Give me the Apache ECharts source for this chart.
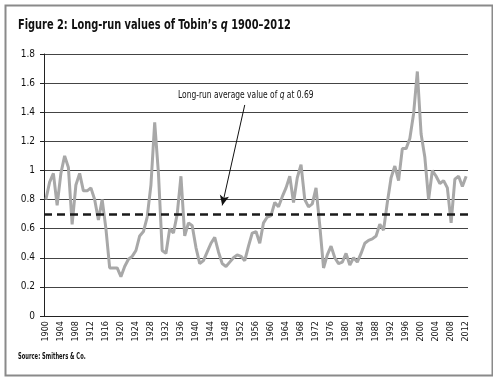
<!DOCTYPE html>
<html>
<head>
<meta charset="utf-8">
<script src="https://cdn.jsdelivr.net/npm/echarts@6/dist/echarts.min.js"></script>
<style>
  html, body { margin: 0; padding: 0; background: #fff; }
  #chart { width: 493px; height: 377px; }
</style>
</head>
<body>
<div id="chart"></div>
<script>
// years 1900..2012
var years = [];
for (var y = 1900; y <= 2012; y++) years.push(String(y));

// Tobin's q
var qValues = [
  0.80, 0.92, 0.98, 0.76, 0.98, 1.10, 1.02, 0.63, 0.90, 0.98,
  0.86, 0.86, 0.88, 0.80, 0.66, 0.80, 0.60, 0.33, 0.33, 0.33,
  0.27, 0.34, 0.39, 0.41, 0.45, 0.55, 0.58, 0.68, 0.90, 1.33,
  0.98, 0.45, 0.43, 0.60, 0.57, 0.70, 0.96, 0.55, 0.64, 0.62,
  0.47, 0.36, 0.38, 0.44, 0.50, 0.54, 0.44, 0.36, 0.34, 0.37,
  0.40, 0.42, 0.41, 0.38, 0.48, 0.57, 0.58, 0.50, 0.64, 0.68,
  0.69, 0.78, 0.75, 0.82, 0.88, 0.96, 0.78, 0.95, 1.04, 0.80,
  0.75, 0.77, 0.88, 0.62, 0.33, 0.42, 0.48, 0.40, 0.36, 0.37,
  0.43, 0.35, 0.40, 0.37, 0.43, 0.50, 0.52, 0.53, 0.55, 0.63,
  0.59, 0.78, 0.95, 1.03, 0.93, 1.15, 1.15, 1.22, 1.39, 1.68,
  1.25, 1.09, 0.80, 1.00, 0.96, 0.91, 0.93, 0.88, 0.64, 0.94,
  0.96, 0.89, 0.96
];

// dashed average line (drawn where the picture has it)
var avgLevel = [0.7];
// arrow from label down to the average line: [year, value]
var arrowFrom = ['1953', 1.45];
var arrowTo = ['1947', 0.76];

var narrow = "'Liberation Sans Narrow', 'DejaVu Sans Condensed', sans-serif";

var chart = echarts.init(document.getElementById('chart'));
chart.setOption({
  animation: false,
  textStyle: { fontFamily: narrow },
  graphic: [
    {
      type: 'rect', left: 3, top: 3,
      shape: { width: 487, height: 370 },
      style: { fill: 'none', stroke: '#8a8a8a', lineWidth: 2 }
    },
    {
      // title, squeezed to match the condensed face of the original
      type: 'text', x: 18, y: 18, scaleX: 0.78,
      style: {
        text: '{b|Figure 2: Long-run values of Tobin\u2019s }{i|q}{b| 1900\u20132012}',
        verticalAlign: 'top',
        rich: {
          b: { fontFamily: narrow, fontWeight: 'bold', fontSize: 14, fill: '#111' },
          i: { fontFamily: narrow, fontWeight: 'bold', fontStyle: 'italic', fontSize: 14, fill: '#111' }
        }
      }
    },
    {
      type: 'text', x: 18, y: 353, scaleX: 0.72,
      style: { text: 'Source: Smithers & Co.', verticalAlign: 'top', font: 'bold 8px ' + narrow, fill: '#111' }
    },
    {
      type: 'text', x: 178, y: 90, scaleX: 0.76,
      style: {
        text: '{n|Long-run average value of }{i|q}{n| at 0.69}',
        verticalAlign: 'top',
        rich: {
          n: { fontFamily: narrow, fontSize: 11, fill: '#111' },
          i: { fontFamily: narrow, fontSize: 11, fontStyle: 'italic', fill: '#111' }
        }
      }
    }
  ],
  grid: { left: 44, right: 25, top: 54, bottom: 61 },
  xAxis: {
    type: 'category',
    data: years,
    boundaryGap: true,
    axisLine: { lineStyle: { color: '#222', width: 1 } },
    axisTick: { interval: 0, length: 4, lineStyle: { color: '#222' } },
    axisLabel: { interval: 3, rotate: 90, fontSize: 9, color: '#111', margin: 5, fontFamily: narrow }
  },
  yAxis: {
    type: 'value',
    min: 0, max: 1.8, interval: 0.2,
    axisLine: { show: true, lineStyle: { color: '#222' } },
    axisTick: { show: true, length: 4, lineStyle: { color: '#222' } },
    axisLabel: { fontSize: 10, color: '#111', margin: 9, fontFamily: narrow },
    splitLine: { lineStyle: { color: '#444', width: 1 } }
  },
  series: [
    {
      type: 'line',
      data: qValues,
      symbol: 'none',
      lineStyle: { color: '#a8a8a8', width: 3 },
      z: 3,
      markLine: {
        silent: true,
        symbol: 'none',
        label: { show: false },
        lineStyle: { color: '#1a1a1a', type: [8, 5], width: 2.5 },
        data: [{ yAxis: avgLevel[0] }]
      }
    },
    {
      type: 'line',
      data: [],
      markLine: {
        silent: true,
        symbol: ['none', 'arrow'],
        symbolSize: [7, 10],
        label: { show: false },
        lineStyle: { color: '#111', type: 'solid', width: 1 },
        data: [[{ coord: arrowFrom }, { coord: arrowTo }]]
      }
    }
  ]
});
</script>
</body>
</html>
